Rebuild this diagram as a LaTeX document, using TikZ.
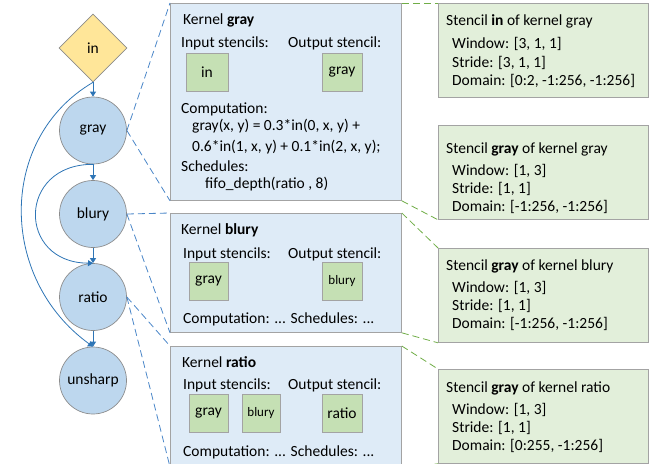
\documentclass[tikz,border=0pt]{standalone}
\usepackage{fontspec}
\setmainfont{Carlito}
\usetikzlibrary{shapes.geometric,arrows.meta}
\definecolor{circfill}{HTML}{BDD7EE}
\definecolor{diafill}{HTML}{FFE699}
\definecolor{kfill}{HTML}{DEEBF7}
\definecolor{stfill}{HTML}{E2EFDA}
\definecolor{smfill}{HTML}{C5E0B4}
\definecolor{edgegray}{HTML}{8C8C8C}
\definecolor{arrblue}{HTML}{2E75B6}
\definecolor{dashblue}{HTML}{4A86C8}
\definecolor{dashgreen}{HTML}{70AD47}
\tikzset{
  x=1pt, y=-1pt,
  fnt/.style={font=\fontsize{15.5}{18}\selectfont},
  smallfnt/.style={font=\fontsize{13}{15}\selectfont},
  txt/.style={fnt, anchor=base west, inner sep=0pt},
  opnode/.style={circle, draw=edgegray, line width=0.7pt, fill=circfill, minimum size=67pt, inner sep=0pt, fnt},
  innode/.style={diamond, aspect=1, draw=edgegray, line width=0.7pt, fill=diafill, minimum size=68pt, inner sep=0pt, fnt},
  kbox/.style={rectangle, draw=edgegray!80, line width=0.8pt, fill=kfill, anchor=north west, minimum width=231pt, inner sep=0pt},
  stbox/.style={rectangle, draw=edgegray!80, line width=0.8pt, fill=stfill, anchor=north west, minimum width=210pt, minimum height=94pt, inner sep=0pt},
  smbox/.style={rectangle, draw=edgegray!80, line width=0.7pt, fill=smfill, minimum height=38pt, inner sep=0pt, fnt},
  arr/.style={draw=arrblue, line width=0.8pt, -{Triangle[width=6pt,length=5pt]}},
  bdash/.style={draw=dashblue, line width=0.8pt, dash pattern=on 7pt off 4pt},
  gdash/.style={draw=dashgreen, line width=0.8pt, dash pattern=on 7pt off 4pt},
}
\begin{document}
\begin{tikzpicture}
\useasboundingbox (0,0) rectangle (655,463);
\clip (0,0) rectangle (655,463);

% graph nodes
\node[innode] (in) at (93,48) {in};
\node[opnode] (gr) at (93,130.5) {gray};
\node[opnode] (bl) at (93,214) {blury};
\node[opnode] (ra) at (93,297) {ratio};
\node[opnode] (un) at (93,380.5) {unsharp};

% kernel boxes
\node[kbox, minimum height=197pt] (kg) at (170,3) {};
\node[kbox, minimum height=119pt] (kb) at (170,213) {};
\node[kbox, minimum height=120pt] (kr) at (170,346) {};

% stencil boxes
\node[stbox] (s1) at (438,3) {};
\node[stbox] (s2) at (438,125) {};
\node[stbox] (s3) at (438,248) {};
\node[stbox] (s4) at (438,369) {};

% arrows
\draw[arr] (in.south) -- (gr.north);
\draw[arr] (gr.south) -- (bl.north);
\draw[arr] (bl.south) -- (ra.north);
\draw[arr] (ra.south) -- (un.north);
\draw[arr] (in.south) .. controls (-2,138) and (-2,278) .. (un.north);
\draw[arr] (gr.south) .. controls (17,164) and (17,263) .. (ra.north);

% blue dashed zoom lines
\draw[bdash] (gr.east) -- (kg.north west);
\draw[bdash] (gr.east) -- (kg.south west);
\draw[bdash] (bl.east) -- (kb.north west);
\draw[bdash] (bl.east) -- (kb.south west);
\draw[bdash] (ra.east) -- (kr.north west);
\draw[bdash] (ra.east) -- (kr.south west);

% green dashed lines
\draw[gdash] (kg.north east) -- (s1.north west);
\draw[gdash] (kg.south east) -- (s2.south west);
\draw[gdash] (kb.north east) -- (s3.north west);
\draw[gdash] (kb.south east) -- (s3.south west);
\draw[gdash] (kr.north east) -- (s4.north west);
\draw[gdash] (kr.south east) -- (s4.south west);

% kernel gray
\node[txt] (kgt) at (183,24) {Kernel \textbf{gray}};
\node[txt] (kgi) at (181,47) {Input stencils:};
\node[txt] (kgo) at (288,47) {Output stencil:};
\node[smbox, minimum width=42pt] (kgin) at (207,72) {in};
\node[smbox, minimum width=40pt] (kggr) at (342,72) {gray};
\node[txt] (kgc) at (181,113) {Computation:};
\node[txt] (kgc1) at (192,130) {gray(x, y) = 0.3*in(0, x, y) +};
\node[txt] (kgc2) at (192,151) {0.6*in(1, x, y) + 0.1*in(2, x, y);};
\node[txt] (kgs) at (181,171) {Schedules:};
\node[txt] (kgs1) at (205,188) {fifo\_depth(ratio , 8)};

% kernel blury
\node[txt] (kbt) at (181,234) {Kernel \textbf{blury}};
\node[txt] (kbi) at (183,258) {Input stencils:};
\node[txt] (kbo) at (288,258) {Output stencil:};
\node[smbox, minimum width=39pt] (kbgr) at (208.5,281.5) {gray};
\node[smbox, minimum width=40pt, smallfnt] (kbbl) at (342,281.5) {blury};
\node[txt] (kbc) at (183,323) {Computation: ... Schedules: ...};

% kernel ratio
\node[txt] (krt) at (182,367) {Kernel \textbf{ratio}};
\node[txt] (kri) at (183,389) {Input stencils:};
\node[txt] (kro) at (288,389) {Output stencil:};
\node[smbox, minimum width=39pt] (krgr) at (208.5,413.5) {gray};
\node[smbox, minimum width=38pt, smallfnt] (krbl) at (261,413.5) {blury};
\node[smbox, minimum width=40pt] (krra) at (342,413.5) {ratio};
\node[txt] (krc) at (183,456) {Computation: ... Schedules: ...};

% stencil texts
\node[txt] (s1t) at (446,25) {Stencil \textbf{in} of kernel gray};
\node[txt] (s1w) at (452,48) {Window: [3, 1, 1]};
\node[txt] (s1s) at (452,67) {Stride: [3, 1, 1]};
\node[txt] (s1d) at (452,85) {Domain: [0:2, -1:256, -1:256]};

\node[txt] (s2t) at (446,153) {Stencil \textbf{gray} of kernel gray};
\node[txt] (s2w) at (452,175) {Window: [1, 3]};
\node[txt] (s2s) at (452,193) {Stride: [1, 1]};
\node[txt] (s2d) at (452,211) {Domain: [-1:256, -1:256]};

\node[txt] (s3t) at (446,270) {Stencil \textbf{gray} of kernel blury};
\node[txt] (s3w) at (452,292) {Window: [1, 3]};
\node[txt] (s3s) at (452,310) {Stride: [1, 1]};
\node[txt] (s3d) at (452,328) {Domain: [-1:256, -1:256]};

\node[txt] (s4t) at (446,392) {Stencil \textbf{gray} of kernel ratio};
\node[txt] (s4w) at (452,414) {Window: [1, 3]};
\node[txt] (s4s) at (452,432) {Stride: [1, 1]};
\node[txt] (s4d) at (452,450) {Domain: [0:255, -1:256]};
\end{tikzpicture}
\end{document}
